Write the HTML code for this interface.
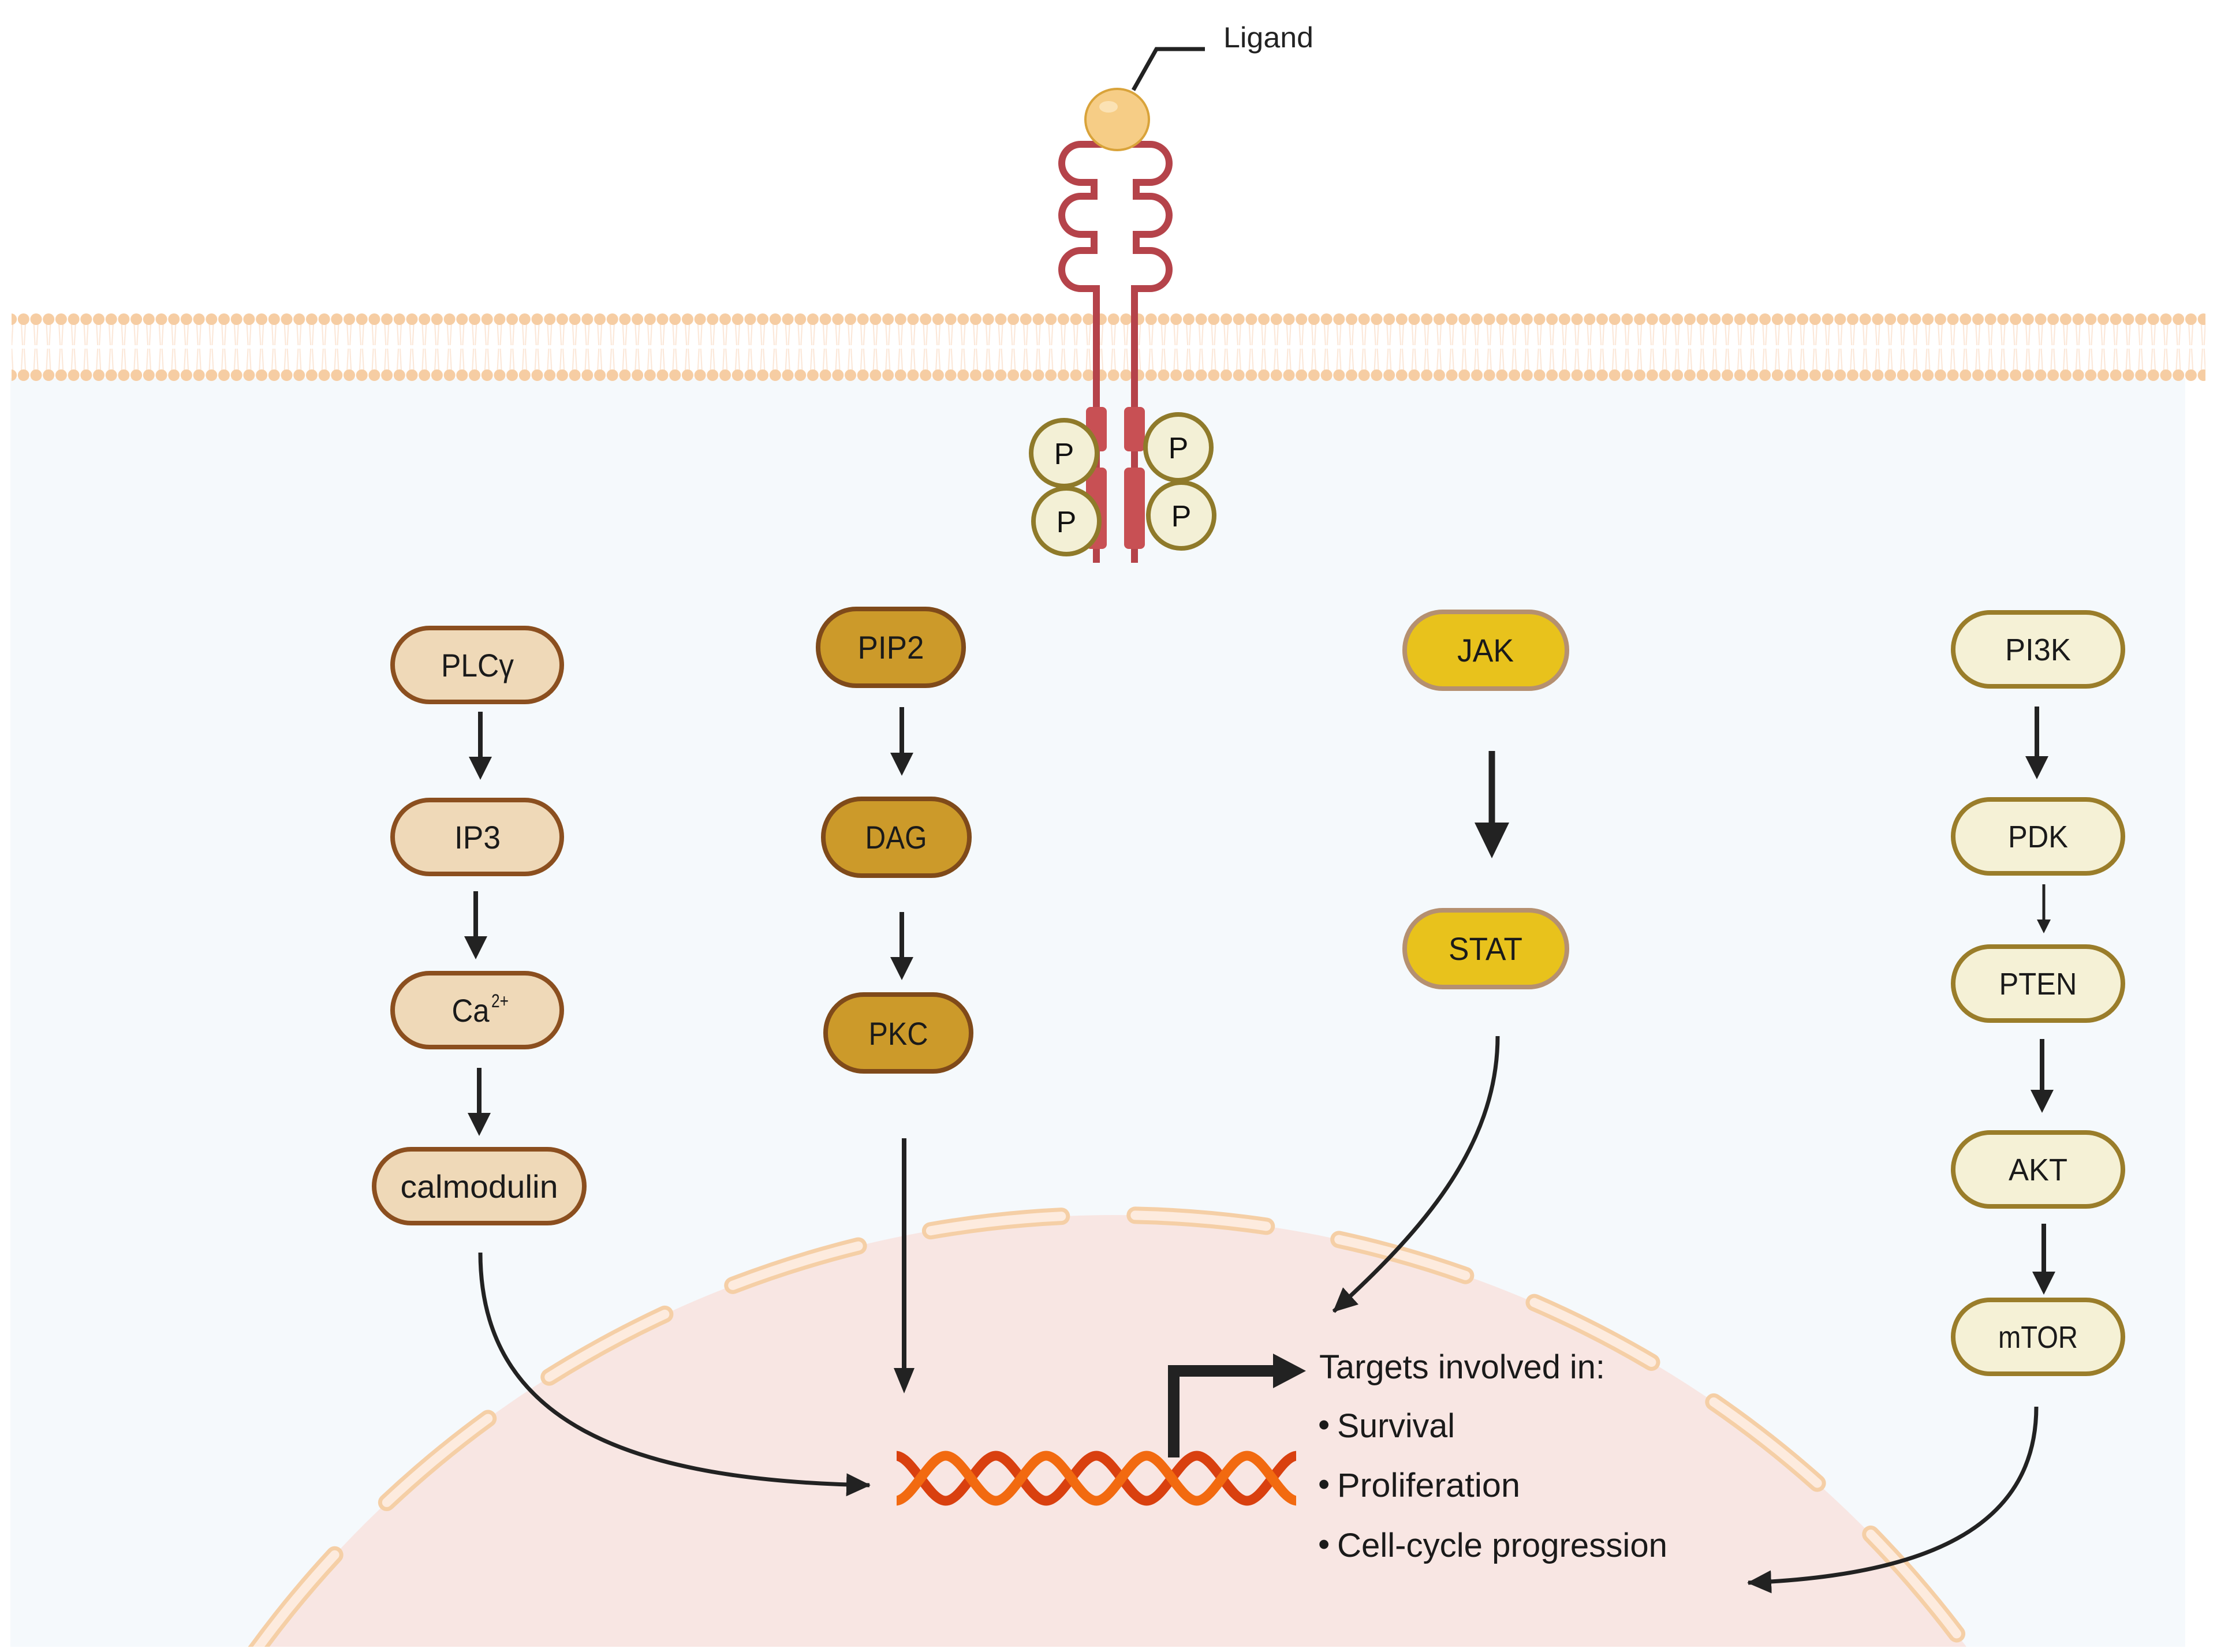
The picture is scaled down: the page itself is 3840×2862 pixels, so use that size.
<!DOCTYPE html>
<html><head><meta charset="utf-8"><style>html,body{margin:0;padding:0;background:#fff;width:3840px;height:2862px;overflow:hidden}svg{display:block}</style></head>
<body>
<svg width="3840" height="2862" viewBox="0 0 3840 2862" xmlns="http://www.w3.org/2000/svg">
<defs>
<pattern id="lip" x="30" y="0" width="21.7" height="2862" patternUnits="userSpaceOnUse">
<line x1="7" y1="560" x2="9" y2="598" stroke="#fbe6d6" stroke-width="2"/>
<line x1="14" y1="560" x2="12" y2="598" stroke="#fbe6d6" stroke-width="2"/>
<line x1="9" y1="604" x2="7" y2="642" stroke="#fbe6d6" stroke-width="2"/>
<line x1="12" y1="604" x2="14" y2="642" stroke="#fbe6d6" stroke-width="2"/>
<circle cx="10.8" cy="553" r="10" fill="#f6cda3"/>
<circle cx="10.8" cy="650" r="10" fill="#f6cda3"/>
</pattern>
<marker id="ah" markerWidth="44" markerHeight="44" refX="40" refY="20" orient="auto" markerUnits="userSpaceOnUse"><path d="M0,0 L42,20 L0,40 Z" fill="#222"/></marker>
<clipPath id="cl"><rect x="30" y="655" width="3755" height="2198"/></clipPath>
</defs>
<rect x="18" y="655" width="3767" height="2198" fill="#f5f9fc"/>
<rect x="20" y="540" width="3800" height="125" fill="url(#lip)"/>
<g clip-path="url(#cl)">
<circle cx="1927" cy="3941" r="1836" fill="#f8e6e3"/>
<circle cx="1927" cy="3941" r="1836" fill="none" stroke="#f5cfa6" stroke-width="30" stroke-linecap="round" stroke-dasharray="228 128" stroke-dashoffset="209"/>
<circle cx="1927" cy="3941" r="1836" fill="none" stroke="#fdebde" stroke-width="16" stroke-linecap="round" stroke-dasharray="228 128" stroke-dashoffset="209"/>
</g>
<!-- receptor -->
<g fill="none" stroke="#b5434a" stroke-width="12">
<path d="M1925 250 H1872 A33 33 0 0 0 1872 316 H1895 V340 H1872 A33 33 0 0 0 1872 406 H1895 V434 H1872 A33 33 0 0 0 1872 500 H1899 V975"/>
<path d="M1945 250 H1992 A33 33 0 0 1 1992 316 H1968 V340 H1992 A33 33 0 0 1 1992 406 H1968 V434 H1992 A33 33 0 0 1 1992 500 H1965 V975"/>
</g>
<g fill="#c85054">
<rect x="1881" y="705" width="36" height="77" rx="8"/><rect x="1881" y="810" width="36" height="141" rx="8"/>
<rect x="1947" y="705" width="36" height="77" rx="8"/><rect x="1947" y="810" width="36" height="141" rx="8"/>
</g>
<g fill="#f3f0d6" stroke="#8f7a2a" stroke-width="8">
<circle cx="1843" cy="785" r="57"/><circle cx="1847" cy="903" r="57"/>
<circle cx="2041" cy="775" r="57"/><circle cx="2046" cy="893" r="57"/>
</g>
<g font-family="Liberation Sans, sans-serif" font-size="52" fill="#111" text-anchor="middle">
<text x="1843" y="804">P</text><text x="1847" y="922">P</text><text x="2041" y="794">P</text><text x="2046" y="912">P</text>
</g>
<polyline points="1963,156 2003,85 2087,85" fill="none" stroke="#222" stroke-width="7"/>
<ellipse cx="1935" cy="207" rx="55" ry="53" fill="#f6cd86" stroke="#d9a33a" stroke-width="4"/>
<ellipse cx="1920" cy="185" rx="16" ry="10" fill="#fbe2b4"/>
<text x="2119" y="82" font-family="Liberation Sans, sans-serif" font-size="50" fill="#222" textLength="156" lengthAdjust="spacingAndGlyphs">Ligand</text>

<!-- nodes -->
<g stroke-width="8">
<rect x="680" y="1088" width="293" height="128" rx="64" fill="#efd9b8" stroke="#8b4f1f"/>
<rect x="680" y="1386" width="293" height="128" rx="64" fill="#efd9b8" stroke="#8b4f1f"/>
<rect x="680" y="1686" width="293" height="128" rx="64" fill="#efd9b8" stroke="#8b4f1f"/>
<rect x="648" y="1991" width="364" height="128" rx="64" fill="#efd9b8" stroke="#8b4f1f"/>
<rect x="1417" y="1055" width="252" height="133" rx="66" fill="#cc9a2a" stroke="#7f4a1a"/>
<rect x="1426" y="1384" width="253" height="133" rx="66" fill="#cc9a2a" stroke="#7f4a1a"/>
<rect x="1430" y="1723" width="252" height="133" rx="66" fill="#cc9a2a" stroke="#7f4a1a"/>
<rect x="2433" y="1060" width="281" height="133" rx="66" fill="#e8c21c" stroke="#b59070"/>
<rect x="2433" y="1577" width="281" height="133" rx="66" fill="#e8c21c" stroke="#b59070"/>
<rect x="3383" y="1061" width="294" height="128" rx="64" fill="#f5f1d6" stroke="#9a7d2a"/>
<rect x="3383" y="1385" width="294" height="128" rx="64" fill="#f5f1d6" stroke="#9a7d2a"/>
<rect x="3383" y="1640" width="294" height="128" rx="64" fill="#f5f1d6" stroke="#9a7d2a"/>
<rect x="3383" y="1962" width="294" height="128" rx="64" fill="#f5f1d6" stroke="#9a7d2a"/>
<rect x="3383" y="2252" width="294" height="128" rx="64" fill="#f5f1d6" stroke="#9a7d2a"/>
</g>
<g font-family="Liberation Sans Narrow, Liberation Sans, sans-serif" font-size="56" fill="#1a1a1a" text-anchor="middle">
<text x="827" y="1172" textLength="126" lengthAdjust="spacingAndGlyphs">PLCγ</text>
<text x="827" y="1470" textLength="80" lengthAdjust="spacingAndGlyphs">IP3</text>
<text x="815" y="1770" textLength="65" lengthAdjust="spacingAndGlyphs">Ca</text>
<text x="866" y="1745" font-size="32" textLength="30" lengthAdjust="spacingAndGlyphs">2+</text>
<text x="830" y="2075" textLength="273" lengthAdjust="spacingAndGlyphs">calmodulin</text>
<text x="1543" y="1141" textLength="115" lengthAdjust="spacingAndGlyphs">PIP2</text>
<text x="1552" y="1470" textLength="107" lengthAdjust="spacingAndGlyphs">DAG</text>
<text x="1556" y="1810" textLength="103" lengthAdjust="spacingAndGlyphs">PKC</text>
<text x="2573" y="1146" textLength="98" lengthAdjust="spacingAndGlyphs">JAK</text>
<text x="2573" y="1663" textLength="128" lengthAdjust="spacingAndGlyphs">STAT</text>
</g>
<g font-family="Liberation Sans, sans-serif" font-size="54" fill="#1a1a1a" text-anchor="middle">
<text x="3530" y="1144" textLength="114" lengthAdjust="spacingAndGlyphs">PI3K</text>
<text x="3530" y="1468" textLength="104" lengthAdjust="spacingAndGlyphs">PDK</text>
<text x="3530" y="1723" textLength="135" lengthAdjust="spacingAndGlyphs">PTEN</text>
<text x="3530" y="2045" textLength="102" lengthAdjust="spacingAndGlyphs">AKT</text>
<text x="3530" y="2335" textLength="138" lengthAdjust="spacingAndGlyphs">mTOR</text>
</g>

<!-- straight arrows -->
<g stroke="#222" stroke-width="8">
<line x1="832" y1="1233" x2="832" y2="1315"/>
<line x1="824" y1="1544" x2="824" y2="1625"/>
<line x1="830" y1="1850" x2="830" y2="1930"/>
<line x1="1562" y1="1225" x2="1562" y2="1305"/>
<line x1="1562" y1="1580" x2="1562" y2="1660"/>
<line x1="1566" y1="1972" x2="1566" y2="2375"/>
<line x1="2584" y1="1301" x2="2584" y2="1430" stroke-width="11"/>
<line x1="3528" y1="1224" x2="3528" y2="1312"/>
<line x1="3540" y1="1532" x2="3540" y2="1595" stroke-width="5"/>
<line x1="3537" y1="1800" x2="3537" y2="1890"/>
<line x1="3540" y1="2120" x2="3540" y2="2205"/>
</g>
<g fill="#222">
<path d="M812,1311 L852,1311 L832,1351 Z"/>
<path d="M804,1622 L844,1622 L824,1662 Z"/>
<path d="M810,1928 L850,1928 L830,1968 Z"/>
<path d="M1542,1304 L1582,1304 L1562,1344 Z"/>
<path d="M1542,1658 L1582,1658 L1562,1698 Z"/>
<path d="M1548,2370 L1584,2370 L1566,2414 Z"/>
<path d="M2554,1425 L2614,1425 L2584,1487 Z"/>
<path d="M3508,1310 L3548,1310 L3528,1350 Z"/>
<path d="M3528,1593 L3552,1593 L3540,1617 Z"/>
<path d="M3517,1888 L3557,1888 L3537,1928 Z"/>
<path d="M3520,2203 L3560,2203 L3540,2243 Z"/>
</g>
<!-- curved arrows -->
<g fill="none" stroke="#222" stroke-width="7" marker-end="url(#ah)">
<path d="M832,2170 C832,2460 1080,2565 1506,2573"/>
<path d="M2594,1795 C2594,1990 2455,2140 2310,2272"/>
<path d="M3527,2437 C3527,2650 3330,2730 3028,2742"/>
</g>

<!-- DNA -->
<g fill="none" stroke-width="17">
<path d="M1551,2522 C1580,2522 1609,2600 1638,2600 C1667,2600 1696,2522 1725,2522 C1754,2522 1783,2600 1812,2600 C1841,2600 1870,2522 1899,2522 C1928,2522 1957,2600 1986,2600 C2015,2600 2044,2522 2073,2522 C2102,2522 2131,2600 2160,2600 C2189,2600 2218,2522 2247,2522" stroke="#d9400f"/>
<path d="M1551,2600 C1580,2600 1609,2522 1638,2522 C1667,2522 1696,2600 1725,2600 C1754,2600 1783,2522 1812,2522 C1841,2522 1870,2600 1899,2600 C1928,2600 1957,2522 1986,2522 C2015,2522 2044,2600 2073,2600 C2102,2600 2131,2522 2160,2522 C2189,2522 2218,2600 2247,2600" stroke="#f26a10"/>
</g>
<rect x="1533" y="2500" width="20" height="120" fill="#f8e6e3"/>
<rect x="2245" y="2500" width="20" height="120" fill="#f8e6e3"/>
<polyline points="2033,2525 2033,2375 2210,2375" fill="none" stroke="#222" stroke-width="20"/>
<path d="M2205,2345 L2262,2375 L2205,2405 Z" fill="#222"/>
<g font-family="Liberation Sans Narrow, Liberation Sans, sans-serif" font-size="58" fill="#1a1a1a">
<text x="2285" y="2388" textLength="495" lengthAdjust="spacingAndGlyphs">Targets involved in:</text>
<text x="2283" y="2488">•</text>
<text x="2316" y="2490" textLength="204" lengthAdjust="spacingAndGlyphs">Survival</text>
<text x="2283" y="2591">•</text>
<text x="2316" y="2593" textLength="317" lengthAdjust="spacingAndGlyphs">Proliferation</text>
<text x="2283" y="2695">•</text>
<text x="2316" y="2697" textLength="572" lengthAdjust="spacingAndGlyphs">Cell-cycle progression</text>
</g>
</svg>
</body></html>
